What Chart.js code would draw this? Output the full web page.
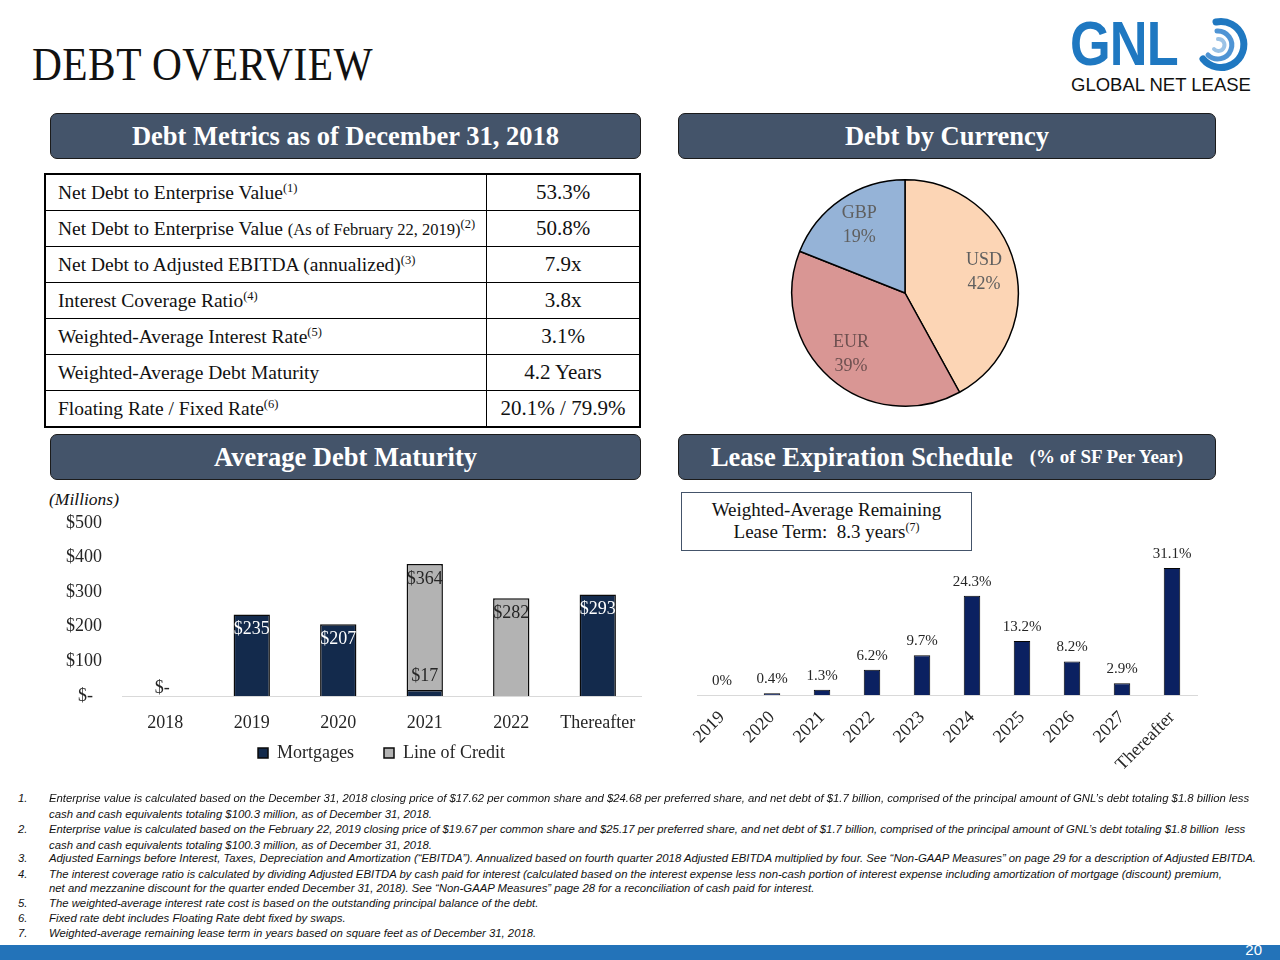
<!DOCTYPE html>
<html>
<head>
<meta charset="utf-8">
<script src="https://cdn.jsdelivr.net/npm/chart.js@4.4.1/dist/chart.umd.min.js"></script>
<style>
  body { margin: 0; width: 1280px; height: 960px; position: relative; overflow: hidden; background: #fff;
         font-family: "Liberation Serif", "DejaVu Serif", serif; color: #111; }
  .abs { position: absolute; }
  .title { left: 32px; top: 38px; font-size: 46px; transform: scaleX(0.9); transform-origin: left top; white-space: nowrap; letter-spacing: 0.5px; }
  .hdr { position: absolute; height: 46px; background: #44546a; border: 1px solid #1b1b1b; border-radius: 7px;
         box-sizing: border-box; color: #fff; font-weight: bold; font-size: 26.5px; display: flex;
         align-items: center; justify-content: center; white-space: nowrap; }
  .hdr small { font-size: 19px; margin-left: 17px; }
  table.metrics { position: absolute; left: 44px; top: 173px; width: 597px; height: 248px; border-collapse: collapse;
                  border: 2px solid #000; font-size: 19.5px; }
  table.metrics td { border: 1px solid #000; padding: 0 0 0 12px; height: 35px; white-space: nowrap; }
  table.metrics td.v { text-align: center; padding: 0; width: 152px; font-size: 21px; }
  table.metrics sup { font-size: 12.5px; vertical-align: 7px; line-height: 0; }
  table.metrics .sm { font-size: 16.5px; }
  .note { position: absolute; font-family: "Liberation Sans", sans-serif; font-style: italic;
          font-size: 11.33px; line-height: 16px; white-space: nowrap; color: #111; }
  .footer { left: 0; top: 945px; width: 1280px; height: 15px; background: #2373b9; }
  .pageno { right: 18px; top: 941px; color: #fff; font-family: "Liberation Sans", sans-serif; font-size: 15px; }
  .leasebox { left: 681px; top: 492px; width: 291px; height: 59px; border: 1.5px solid #44546a; box-sizing: border-box;
              text-align: center; font-size: 19px; line-height: 22px; padding-top: 6px; }
  .leasebox sup { font-size: 12px; vertical-align: 7px; line-height: 0; }
  .millions { left: 49px; top: 489px; font-style: italic; font-size: 17.5px; }
  .logo-gnl { left: 1070px; top: 7px; font-family: "Liberation Sans", sans-serif; font-weight: bold; font-size: 63px;
              color: #1f78c1; transform: scaleX(0.83); transform-origin: left top; letter-spacing: -1px; }
  .logo-sub { left: 1071px; top: 74px; font-family: "Liberation Sans", sans-serif; font-size: 18.5px; color: #111; white-space: nowrap; }
</style>
</head>
<body>

<div class="abs title">DEBT OVERVIEW</div>

<div class="abs logo-gnl">GNL</div>
<svg class="abs" style="left:1194px; top:16px;" width="58" height="58" viewBox="0 0 58 58">
  <path d="M22 6 A23 23 0 1 1 9 43" fill="none" stroke="#1f78c1" stroke-width="7" stroke-linecap="round"/>
  <path d="M23 15 A14 14 0 1 1 14 39" fill="none" stroke="#4f94d4" stroke-width="5" stroke-linecap="round"/>
  <path d="M24 23 A6 6 0 1 1 20 33" fill="none" stroke="#9cc3e6" stroke-width="4" stroke-linecap="round"/>
</svg>
<div class="abs logo-sub">GLOBAL NET LEASE</div>

<div class="hdr" style="left:50px; top:113px; width:591px;">Debt Metrics as of December 31, 2018</div>
<div class="hdr" style="left:678px; top:113px; width:538px;">Debt by Currency</div>
<div class="hdr" style="left:50px; top:434px; width:591px;">Average Debt Maturity</div>
<div class="hdr" style="left:678px; top:434px; width:538px;">Lease Expiration Schedule<small>(% of SF Per Year)</small></div>

<table class="metrics">
  <tr><td>Net Debt to Enterprise Value<sup>(1)</sup></td><td class="v">53.3%</td></tr>
  <tr><td>Net Debt to Enterprise Value <span class="sm">(As of February 22, 2019)</span><sup>(2)</sup></td><td class="v">50.8%</td></tr>
  <tr><td>Net Debt to Adjusted EBITDA (annualized)<sup>(3)</sup></td><td class="v">7.9x</td></tr>
  <tr><td>Interest Coverage Ratio<sup>(4)</sup></td><td class="v">3.8x</td></tr>
  <tr><td>Weighted-Average Interest Rate<sup>(5)</sup></td><td class="v">3.1%</td></tr>
  <tr><td>Weighted-Average Debt Maturity</td><td class="v">4.2 Years</td></tr>
  <tr><td>Floating Rate / Fixed Rate<sup>(6)</sup></td><td class="v">20.1% / 79.9%</td></tr>
</table>

<canvas id="pieChart" class="abs" style="left:790px; top:174px;" width="230" height="238"></canvas>

<div class="abs millions">(Millions)</div>
<canvas id="debtChart" class="abs" style="left:40px; top:500px;" width="620" height="292"></canvas>

<div class="abs leasebox">Weighted-Average Remaining<br>Lease Term:&nbsp; 8.3 years<sup>(7)</sup></div>
<canvas id="leaseChart" class="abs" style="left:660px; top:540px;" width="620" height="240"></canvas>

<div class="note" style="left:18px; top:790px;">1.</div>
<div class="note" style="left:49px; top:790px;">Enterprise value is calculated based on the December 31, 2018 closing price of $17.62 per common share and $24.68 per preferred share, and net debt of $1.7 billion, comprised of the principal amount of GNL’s debt totaling $1.8 billion less</div>
<div class="note" style="left:49px; top:806px;">cash and cash equivalents totaling $100.3 million, as of December 31, 2018.</div>
<div class="note" style="left:18px; top:821px;">2.</div>
<div class="note" style="left:49px; top:821px;">Enterprise value is calculated based on the February 22, 2019 closing price of $19.67 per common share and $25.17 per preferred share, and net debt of $1.7 billion, comprised of the principal amount of GNL’s debt totaling $1.8 billion&nbsp; less</div>
<div class="note" style="left:49px; top:837px;">cash and cash equivalents totaling $100.3 million, as of December 31, 2018.</div>
<div class="note" style="left:18px; top:850px;">3.</div>
<div class="note" style="left:49px; top:850px;">Adjusted Earnings before Interest, Taxes, Depreciation and Amortization (“EBITDA”). Annualized based on fourth quarter 2018 Adjusted EBITDA multiplied by four. See “Non-GAAP Measures” on page 29 for a description of Adjusted EBITDA.</div>
<div class="note" style="left:18px; top:866px;">4.</div>
<div class="note" style="left:49px; top:866px;">The interest coverage ratio is calculated by dividing Adjusted EBITDA by cash paid for interest (calculated based on the interest expense less non-cash portion of interest expense including amortization of mortgage (discount) premium,</div>
<div class="note" style="left:49px; top:880px;">net and mezzanine discount for the quarter ended December 31, 2018). See “Non-GAAP Measures” page 28 for a reconciliation of cash paid for interest.</div>
<div class="note" style="left:18px; top:895px;">5.</div>
<div class="note" style="left:49px; top:895px;">The weighted-average interest rate cost is based on the outstanding principal balance of the debt.</div>
<div class="note" style="left:18px; top:910px;">6.</div>
<div class="note" style="left:49px; top:910px;">Fixed rate debt includes Floating Rate debt fixed by swaps.</div>
<div class="note" style="left:18px; top:925px;">7.</div>
<div class="note" style="left:49px; top:925px;">Weighted-average remaining lease term in years based on square feet as of December 31, 2018.</div>

<div class="abs footer"></div>
<div class="abs pageno">20</div>

<script>
// debt by currency
const currencyLabels = ["USD", "EUR", "GBP"];
const currencyShares = [42, 39, 19];
const currencyColors = ["#fcd5b5", "#d99694", "#95b3d7"];

// average debt maturity ($ millions)
const maturityYears = ["2018", "2019", "2020", "2021", "2022", "Thereafter"];
const mortgages = [0, 235, 207, 17, 0, 293];
const lineOfCredit = [0, 0, 0, 364, 282, 0];

// lease expiration (% of SF per year)
const leaseYears = ["2019", "2020", "2021", "2022", "2023", "2024", "2025", "2026", "2027", "Thereafter"];
const leaseShares = [0, 0.4, 1.3, 6.2, 9.7, 24.3, 13.2, 8.2, 2.9, 31.1];

const SERIF = '"Liberation Serif", "DejaVu Serif", serif';
Chart.defaults.font.family = SERIF;
Chart.defaults.color = "#262626";
Chart.defaults.animation = false;

// pie slice labels, two lines inside each slice
const pieLabels = {
  id: "pieLabels",
  afterDatasetsDraw(chart) {
    const ctx = chart.ctx;
    const meta = chart.getDatasetMeta(0);
    ctx.save();
    ctx.font = "18px " + SERIF;
    ctx.textAlign = "center";
    ctx.textBaseline = "middle";
    meta.data.forEach((arc, i) => {
      const mid = (arc.startAngle + arc.endAngle) / 2;
      const r = arc.outerRadius * 0.72;
      const x = arc.x + Math.cos(mid) * r;
      const y = arc.y + Math.sin(mid) * r;
      ctx.fillStyle = i === 1 ? "#6e5050" : "#5f5f5f";
      ctx.fillText(currencyLabels[i], x, y - 12);
      ctx.fillText(currencyShares[i] + "%", x, y + 12);
    });
    ctx.restore();
  }
};

new Chart(document.getElementById("pieChart"), {
  type: "pie",
  data: {
    labels: currencyLabels,
    datasets: [{ data: currencyShares, backgroundColor: currencyColors, borderColor: "#000", borderWidth: 1.5 }]
  },
  options: {
    responsive: false,
    layout: { padding: 1 },
    plugins: { legend: { display: false }, tooltip: { enabled: false } }
  },
  plugins: [pieLabels]
});

// debt maturity value labels
const debtLabels = {
  id: "debtLabels",
  afterDatasetsDraw(chart) {
    const ctx = chart.ctx;
    const xs = chart.scales.x, ys = chart.scales.y;
    ctx.save();
    ctx.font = "18px " + SERIF;
    ctx.textAlign = "center";
    ctx.textBaseline = "middle";
    chart.data.datasets.forEach((ds, di) => {
      chart.getDatasetMeta(di).data.forEach((bar, i) => {
        const v = ds.data[i];
        if (!v) return;
        if (v < 40) {
          ctx.fillStyle = "#262626";
          ctx.fillText("$" + v, bar.x, bar.y - 14);
        } else {
          ctx.fillStyle = ds.labelColor;
          ctx.fillText("$" + v, bar.x, bar.y + 15);
        }
      });
    });
    ctx.fillStyle = "#262626";
    maturityYears.forEach((c, i) => {
      if (mortgages[i] + lineOfCredit[i] === 0) {
        ctx.fillText("$-", xs.getPixelForValue(i) - 3, ys.getPixelForValue(0) - 8);
      }
    });
    ctx.restore();
  }
};

// pull the legend row up closer to the axis labels
const legendNudge = {
  id: "legendNudge",
  afterLayout(chart) {
    if (chart.legend) { chart.legend.top -= 20; chart.legend.bottom -= 20; }
  }
};

new Chart(document.getElementById("debtChart"), {
  type: "bar",
  data: {
    labels: maturityYears,
    datasets: [
      { label: "Mortgages", data: mortgages, backgroundColor: "#132a4c", borderColor: "#0a0a0a",
        borderWidth: 1.5, labelColor: "#ffffff", barPercentage: 0.42, categoryPercentage: 1 },
      { label: "Line of Credit", data: lineOfCredit, backgroundColor: "#b3b3b3", borderColor: "#0a0a0a",
        borderWidth: 1.5, labelColor: "#262626", barPercentage: 0.42, categoryPercentage: 1 }
    ]
  },
  options: {
    responsive: false,
    layout: { padding: { top: 14, right: 19, left: 0, bottom: 0 } },
    scales: {
      x: {
        stacked: true,
        grid: { display: false },
        border: { color: "#d9d9d9", width: 1 },
        ticks: { font: { size: 18 }, color: "#262626", padding: 8 },
        afterFit: s => { s.height = 38; }
      },
      y: {
        stacked: true,
        min: 0, max: 500,
        grid: { display: false },
        border: { display: false },
        ticks: { stepSize: 100, font: { size: 18 }, color: "#262626", padding: 12,
                 callback: v => v === 0 ? "$-  " : "$" + v },
        afterFit: s => { s.width = 82; }
      }
    },
    plugins: {
      legend: {
        position: "bottom",
        fullSize: false,
        labels: { boxWidth: 10, boxHeight: 10, padding: 30, font: { size: 18 }, color: "#262626" }
      },
      tooltip: { enabled: false }
    }
  },
  plugins: [debtLabels, legendNudge]
});

// lease expiration value labels
const leaseLabels = {
  id: "leaseLabels",
  afterDatasetsDraw(chart) {
    const ctx = chart.ctx;
    ctx.save();
    ctx.font = "15px " + SERIF;
    ctx.textAlign = "center";
    ctx.textBaseline = "middle";
    ctx.fillStyle = "#262626";
    chart.getDatasetMeta(0).data.forEach((bar, i) => {
      const v = leaseShares[i];
      ctx.fillText(v === 0 ? "0%" : v.toFixed(1) + "%", bar.x, bar.y - 14);
    });
    ctx.restore();
  }
};

new Chart(document.getElementById("leaseChart"), {
  type: "bar",
  data: {
    labels: leaseYears,
    datasets: [{ label: "Lease Expiration", data: leaseShares, backgroundColor: "#0b2161", borderColor: "#050505",
                 borderWidth: 1, barPercentage: 0.33, categoryPercentage: 1 }]
  },
  options: {
    responsive: false,
    layout: { padding: { top: 12, right: 83, left: 37, bottom: 0 } },
    scales: {
      x: {
        grid: { display: false },
        border: { color: "#d9d9d9", width: 1 },
        ticks: { font: { size: 18 }, color: "#262626", minRotation: 45, maxRotation: 45, autoSkip: false, padding: 4 },
        afterFit: s => { s.height = 85; }
      },
      y: { display: false, min: 0, max: 35 }
    },
    plugins: { legend: { display: false }, tooltip: { enabled: false } }
  },
  plugins: [leaseLabels]
});
</script>
</body>
</html>
